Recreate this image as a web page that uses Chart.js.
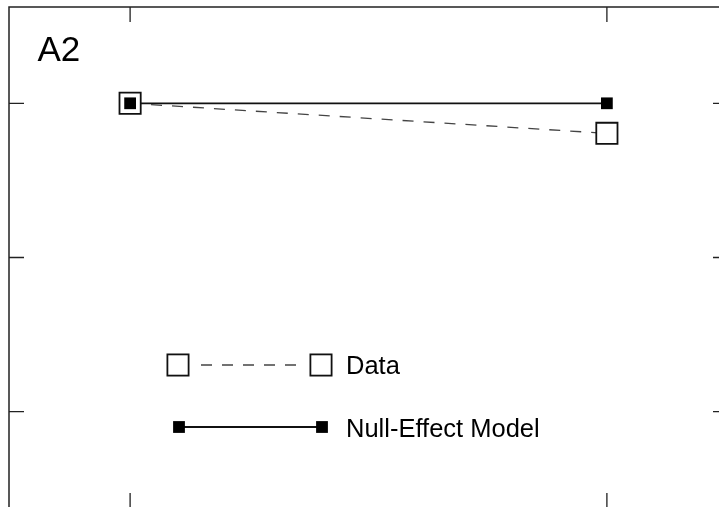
<!DOCTYPE html>
<html>
<head>
<meta charset="utf-8">
<script src="https://cdn.jsdelivr.net/npm/chart.js@4/dist/chart.umd.min.js"></script>
<style>
  html, body { margin: 0; padding: 0; background: #fff; overflow: hidden; }
  #wrap { width: 719px; height: 507px; overflow: hidden; }
</style>
</head>
<body>
<div id="wrap"><canvas id="a2Chart" width="740" height="520"></canvas></div>
<script>
// panel A2: observed data vs null-effect model
const conditions = [1, 2];
const dataValues = [1.0, 0.961];
const nullValues = [1.0, 1.0];
const xTicks = [1, 2];
const yTicks = [0.6, 0.8, 1.0];
const panelLabel = 'A2';
const legendLabels = ['Data', 'Null-Effect Model'];

const pts = vals => conditions.map((c, i) => ({ x: c, y: vals[i] }));
const FONT = '"Liberation Sans", Arial, sans-serif';

const framePlugin = {
  id: 'frame',
  afterDraw(chart) {
    const { ctx, chartArea: a, scales: { x, y } } = chart;
    ctx.save();
    ctx.strokeStyle = '#222';
    ctx.lineWidth = 1.5;
    ctx.strokeRect(a.left, a.top, a.right - a.left, a.bottom - a.top);

    const len = 15;
    ctx.lineWidth = 1.3;
    ctx.beginPath();
    xTicks.forEach(v => {
      const px = x.getPixelForValue(v);
      ctx.moveTo(px, a.top); ctx.lineTo(px, a.top + len);
      ctx.moveTo(px, a.bottom); ctx.lineTo(px, a.bottom - len);
    });
    yTicks.forEach(v => {
      const py = y.getPixelForValue(v);
      ctx.moveTo(a.left, py); ctx.lineTo(a.left + len, py);
      ctx.moveTo(a.right, py); ctx.lineTo(a.right - len, py);
    });
    ctx.stroke();

    // panel label
    ctx.fillStyle = '#000';
    ctx.font = '35px ' + FONT;
    ctx.textBaseline = 'alphabetic';
    ctx.fillText(panelLabel, a.left + 28.5, a.top + 54);

    // legend
    const lx1 = a.left + 169, lx2 = a.left + 312, tx = a.left + 337;
    const r1 = a.top + 358, r2 = a.top + 420;

    ctx.strokeStyle = '#444';
    ctx.lineWidth = 1.3;
    ctx.setLineDash([11, 10]);
    ctx.beginPath();
    ctx.moveTo(lx1 + 23, r1); ctx.lineTo(lx2 - 15, r1);
    ctx.stroke();
    ctx.setLineDash([]);

    ctx.strokeStyle = '#111';
    ctx.lineWidth = 1.8;
    [lx1, lx2].forEach(cx => ctx.strokeRect(cx - 10.6, r1 - 10.6, 21.2, 21.2));

    ctx.lineWidth = 1.8;
    ctx.beginPath();
    ctx.moveTo(lx1 + 1, r2); ctx.lineTo(lx2 + 1, r2);
    ctx.stroke();
    ctx.fillStyle = '#000';
    [lx1 + 1, lx2 + 1].forEach(cx => ctx.fillRect(cx - 5.9, r2 - 5.9, 11.8, 11.8));

    ctx.font = '25.5px ' + FONT;
    ctx.fillText(legendLabels[0], tx, r1 + 9);
    ctx.fillText(legendLabels[1], tx, r2 + 9.5);
    ctx.restore();
  }
};

new Chart(document.getElementById('a2Chart'), {
  type: 'line',
  data: {
    datasets: [
      {
        label: 'Null-Effect Model points',
        data: pts(nullValues),
        showLine: false,
        pointStyle: 'rect',
        pointRadius: 8.3,
        pointBackgroundColor: '#000',
        pointBorderWidth: 0
      },
      {
        label: legendLabels[0],
        data: pts(dataValues),
        borderColor: '#444',
        borderWidth: 1.3,
        borderDash: [11, 10],
        pointStyle: 'rect',
        pointRadius: 15,
        pointBackgroundColor: '#fff',
        pointBorderColor: '#111',
        pointBorderWidth: 1.8
      },
      {
        label: legendLabels[1],
        data: pts(nullValues),
        borderColor: '#111',
        borderWidth: 1.8,
        pointRadius: 0
      }
    ]
  },
  options: {
    responsive: false,
    animation: false,
    events: [],
    layout: { autoPadding: false, padding: { left: 9, top: 7, right: 12, bottom: 12 } },
    plugins: { legend: { display: false }, tooltip: { enabled: false } },
    scales: {
      x: { type: 'linear', min: 0.746, max: 2.254, display: false },
      y: { type: 'linear', min: 0.4751, max: 1.1249, display: false }
    }
  },
  plugins: [framePlugin]
});
</script>
</body>
</html>
